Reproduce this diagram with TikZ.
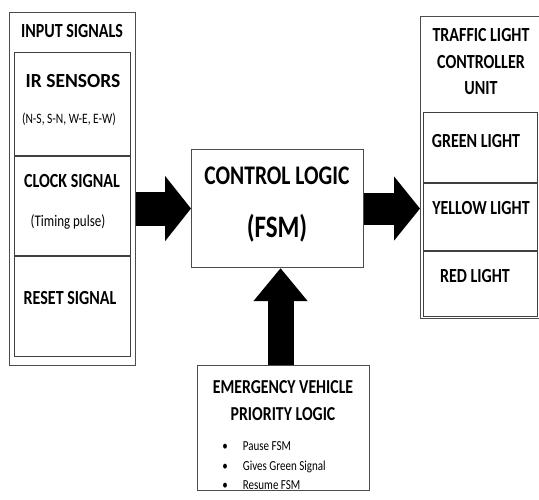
\documentclass[tikz,border=0pt]{standalone}
\usepackage{fontspec}
\setmainfont{Carlito}
\usepackage{graphicx}
\usetikzlibrary{arrows.meta,positioning}

% the lettering of the diagram is a little stretched upwards
\newcommand{\tall}[1]{\scalebox{1}[1.25]{#1}}

\tikzset{
	frame/.style={draw=black!70, line width=1.1pt, fill=white, anchor=north west, inner sep=0pt},
	cell/.style={draw=black!75, line width=1pt, anchor=north west, inner sep=0pt},
	head/.style={font=\bfseries\fontsize{16}{19}\selectfont, inner sep=0pt, anchor=base},
	note/.style={font=\fontsize{11.5}{13}\selectfont, inner sep=0pt, anchor=base},
	bigarrow/.style={line width=#1, black}
}

\begin{document}
\begin{tikzpicture}[x=1pt,y=-1pt]
	\useasboundingbox (0,0) rectangle (539,500);

	% input side
	\node[frame, minimum width=126pt, minimum height=353pt] (inp) at (9,12) {};
	\node[cell, minimum width=116pt, minimum height=103pt] (ir) at (14,52) {};
	\node[cell, minimum width=116pt, minimum height=99pt, below=0pt of ir.south west, anchor=north west] (clk) {};
	\node[cell, minimum width=116pt, minimum height=100pt, below=0pt of clk.south west, anchor=north west] (rst) {};

	\node[head] (inpt) at (72,38) {\tall{INPUT SIGNALS}};
	\node[head] (irt)  at (73,88) {\scalebox{1.22}[1.25]{IR SENSORS}};
	\node[note] (irn)  at (69,124) {\tall{(N-S, S-N, W-E, E-W)}};
	\node[head] (clkt) at (72,188) {\tall{CLOCK SIGNAL}};
	\node[note, font=\fontsize{13}{15}\selectfont] (clkn) at (68,227) {\tall{(Timing pulse)}};
	\node[head] (rstt) at (70,305) {\tall{RESET SIGNAL}};

	% controller
	\node[frame, minimum width=172pt, minimum height=118pt] (fsm) at (191,149) {};
	\node[head, font=\bfseries\fontsize{21.5}{24}\selectfont] (fsmt) at (277,185) {\tall{CONTROL LOGIC}};
	\node[head, font=\bfseries\fontsize{25}{28}\selectfont] (fsmn) at (277,238) {\tall{(FSM)}};

	% output side
	\node[frame, minimum width=121pt, minimum height=302pt] (ctl) at (420,16) {};
	\node[cell, minimum width=114pt, minimum height=70pt] (grn) at (423,112) {};
	\node[cell, minimum width=114pt, minimum height=67pt, below=0pt of grn.south west, anchor=north west] (ylw) {};
	\node[cell, minimum width=114pt, minimum height=65pt, below=0pt of ylw.south west, anchor=north west] (red) {};

	\node[head] (ctlt) at (481,41.7) {\tall{TRAFFIC LIGHT}};
	\node[head] (ctlm) at (481,68.3) {\tall{CONTROLLER}};
	\node[head] (ctlb) at (481,95) {\tall{UNIT}};
	\node[head] (grnt) at (476,148) {\tall{GREEN LIGHT}};
	\node[head] (ylwt) at (481,215) {\tall{YELLOW LIGHT}};
	\node[head] (redt) at (475,283) {\tall{RED LIGHT}};

	% emergency block
	\node[frame, minimum width=172pt, minimum height=125pt] (emg) at (197,365) {};
	\node[head, font=\bfseries\fontsize{15.8}{19}\selectfont] (emgt) at (283,393) {\tall{EMERGENCY VEHICLE}};
	\node[head, font=\bfseries\fontsize{15.8}{19}\selectfont] (emgp) at (283,420) {\tall{PRIORITY LOGIC}};
	\foreach \y/\txt [count=\i] in {450/Pause FSM, 470/Gives Green Signal, 489/Resume FSM} {
		\node[note, font=\fontsize{11}{13}\selectfont, anchor=base west] (emg\i) at (242.7,\y) {\tall{\txt}};
		\node[note, font=\fontsize{11}{13}\selectfont] (dot\i) at (225,\y) {\tall{\textbullet}};
	}

	% block arrows
	\draw[bigarrow=34pt, -{Triangle[length=26pt,width=64pt]}] (inp.east |- fsm.west) -- (fsm.west);
	\draw[bigarrow=32pt, -{Triangle[length=26pt,width=63pt]}] (fsm.east) -- (ctl.west |- fsm.east);
	\draw[bigarrow=26pt, -{Triangle[length=33pt,width=52pt]}] ([xshift=-3pt]emg.north) -- ([xshift=-3pt]emg.north |- fsm.south);
\end{tikzpicture}
\end{document}
